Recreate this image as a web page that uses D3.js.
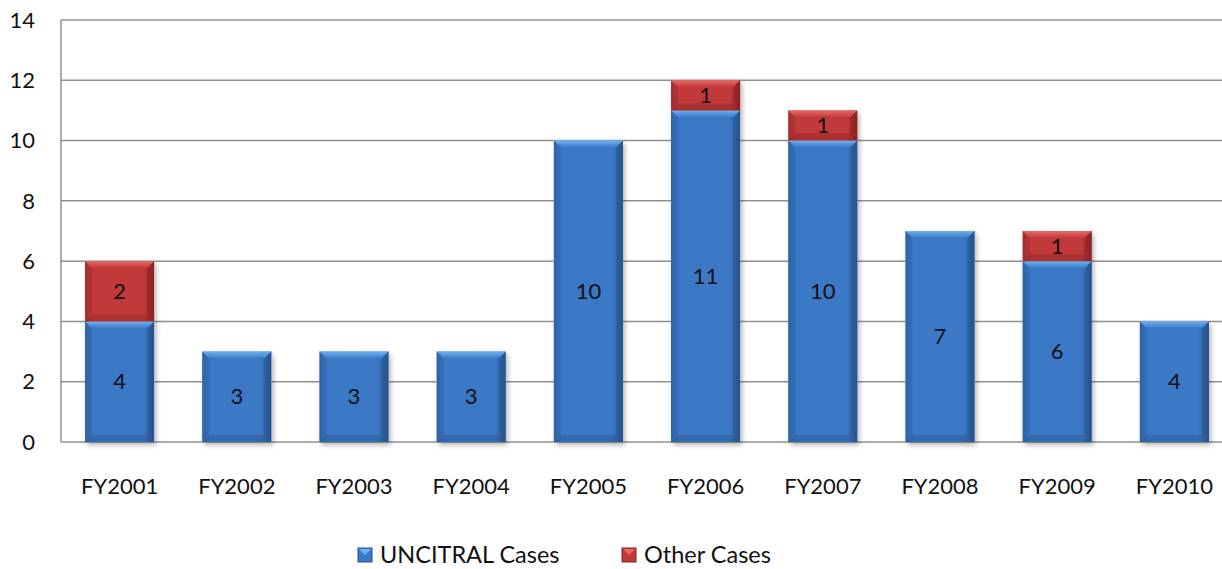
<!DOCTYPE html>
<html>
<head>
<meta charset="utf-8">
<style>
  body { margin: 0; background: #fff; font-family: Lato, "Open Sans", sans-serif; }
  .grid line { stroke: #8f8f8f; stroke-width: 1.5; }
  .axis text { font-size: 22px; fill: #111; }
  .lbl { font-size: 22px; fill: #111; text-anchor: middle; }
  .legend text { font-size: 23.5px; fill: #111; }
</style>
<script src="https://d3js.org/d3.v7.min.js"></script>
</head>
<body>
<svg id="chart" width="1222" height="569"></svg>
<script>
// data
var years = ["FY2001","FY2002","FY2003","FY2004","FY2005","FY2006","FY2007","FY2008","FY2009","FY2010"];
var uncitral = [4, 3, 3, 3, 10, 11, 10, 7, 6, 4];
var other = [2, 0, 0, 0, 0, 1, 1, 0, 1, 0];
var yTicks = [0, 2, 4, 6, 8, 10, 12, 14];

var seriesNames = ["UNCITRAL Cases", "Other Cases"];
var colors = {
  "UNCITRAL Cases": { mid: "#3b78c6", light: "#6fb0f2", dark: "#27528c", side: "#2f62a6" },
  "Other Cases":    { mid: "#c2393a", light: "#e56a6a", dark: "#8a2223", side: "#a32e2f" }
};

var margin = { top: 20, left: 61, bottom: 127 },
    plotW = 1172, plotH = 569 - margin.top - margin.bottom;

var svg = d3.select("#chart");
var defs = svg.append("defs");

var sh = defs.append("filter").attr("id", "shadow").attr("x", "-20%").attr("y", "-20%").attr("width", "150%").attr("height", "150%");
sh.append("feDropShadow").attr("dx", 2).attr("dy", 3).attr("stdDeviation", 2.5).attr("flood-color", "#000").attr("flood-opacity", 0.3);

seriesNames.forEach(function (s, i) {
  var c = colors[s];
  var g = defs.append("linearGradient").attr("id", "grad" + i).attr("x1", 0).attr("x2", 1).attr("y1", 0).attr("y2", 0);
  g.append("stop").attr("offset", "0%").attr("stop-color", c.side);
  g.append("stop").attr("offset", "12%").attr("stop-color", c.mid);
  g.append("stop").attr("offset", "85%").attr("stop-color", c.mid);
  g.append("stop").attr("offset", "100%").attr("stop-color", c.dark);
  var t = defs.append("linearGradient").attr("id", "top" + i).attr("x1", 0).attr("x2", 0).attr("y1", 0).attr("y2", 1);
  t.append("stop").attr("offset", "0%").attr("stop-color", c.light);
  t.append("stop").attr("offset", "100%").attr("stop-color", c.mid);
});

var g = svg.append("g").attr("transform", "translate(" + margin.left + "," + margin.top + ")");

var x = d3.scaleBand().domain(years).range([0, plotW]).paddingInner(0.41).paddingOuter(0.205);
var y = d3.scaleLinear().domain([0, 14]).range([plotH, 0]);

// gridlines
g.append("g").attr("class", "grid")
  .selectAll("line").data(yTicks).enter().append("line")
  .attr("x1", 0).attr("x2", plotW)
  .attr("y1", function (d) { return y(d); }).attr("y2", function (d) { return y(d); });
g.append("line").attr("x1", 0).attr("x2", 0).attr("y1", 0).attr("y2", plotH)
  .attr("stroke", "#8f8f8f").attr("stroke-width", 1.5);

// y labels
g.append("g").attr("class", "axis")
  .selectAll("text").data(yTicks).enter().append("text")
  .attr("x", -26).attr("y", function (d) { return y(d); }).attr("dy", "0.35em")
  .attr("text-anchor", "end").text(function (d) { return d; });

// x labels
g.append("g").attr("class", "axis")
  .selectAll("text").data(years).enter().append("text")
  .attr("x", function (d) { return x(d) + x.bandwidth() / 2; })
  .attr("y", plotH + 52).attr("text-anchor", "middle").text(function (d) { return d; });

// stacked data
var rows = years.map(function (yr, i) { return { year: yr, "UNCITRAL Cases": uncitral[i], "Other Cases": other[i] }; });
var stack = d3.stack().keys(seriesNames)(rows);

var bars = g.append("g");
bars.selectAll("rect.sh").data(rows).enter().append("rect")
  .attr("x", function (d) { return x(d.year); })
  .attr("width", x.bandwidth())
  .attr("y", function (d) { return y(d["UNCITRAL Cases"] + d["Other Cases"]); })
  .attr("height", function (d) { return y(0) - y(d["UNCITRAL Cases"] + d["Other Cases"]); })
  .attr("fill", "#fff").attr("filter", "url(#shadow)");

stack.forEach(function (layer, li) {
  var c = colors[layer.key];
  layer.forEach(function (d) {
    if (d[1] - d[0] <= 0) return;
    var x0 = x(d.data.year), w = x.bandwidth();
    var top = y(d[1]), bot = y(d[0]);
    var b = 7;
    var seg = bars.append("g");
    seg.append("rect").attr("x", x0).attr("y", top).attr("width", w).attr("height", bot - top)
      .attr("fill", "url(#grad" + li + ")");
    seg.append("path").attr("d", "M" + x0 + "," + top + "L" + (x0 + w) + "," + top +
      "L" + (x0 + w - b) + "," + (top + b) + "L" + (x0 + b) + "," + (top + b) + "Z")
      .attr("fill", "url(#top" + li + ")");
    seg.append("path").attr("d", "M" + x0 + "," + bot + "L" + (x0 + w) + "," + bot +
      "L" + (x0 + w - b) + "," + (bot - b) + "L" + (x0 + b) + "," + (bot - b) + "Z")
      .attr("fill", c.dark).attr("opacity", 0.4);
    seg.append("path").attr("d", "M" + (x0 + w) + "," + top + "L" + (x0 + w) + "," + bot +
      "L" + (x0 + w - b) + "," + (bot - b) + "L" + (x0 + w - b) + "," + (top + b) + "Z")
      .attr("fill", c.dark).attr("opacity", 0.45);
    seg.append("path").attr("d", "M" + x0 + "," + top + "L" + x0 + "," + bot +
      "L" + (x0 + b) + "," + (bot - b) + "L" + (x0 + b) + "," + (top + b) + "Z")
      .attr("fill", c.side).attr("opacity", 0.3);
    seg.append("text").attr("class", "lbl")
      .attr("x", x0 + w / 2).attr("y", (top + bot) / 2).attr("dy", "0.35em")
      .text(d[1] - d[0]);
  });
});

// legend
var legendX = [358, 622];
var lg = svg.append("g").attr("class", "legend");
seriesNames.forEach(function (s, i) {
  var c = colors[s];
  var it = lg.append("g").attr("transform", "translate(" + legendX[i] + ",548)");
  it.append("rect").attr("width", 14).attr("height", 14).attr("fill", c.mid).attr("stroke", c.dark).attr("stroke-width", 1);
  it.append("path").attr("d", "M1,1L13,1L7,7Z").attr("fill", c.light);
  it.append("text").attr("x", 22).attr("y", 7).attr("dy", "0.35em").text(s);
});
</script>
</body>
</html>
